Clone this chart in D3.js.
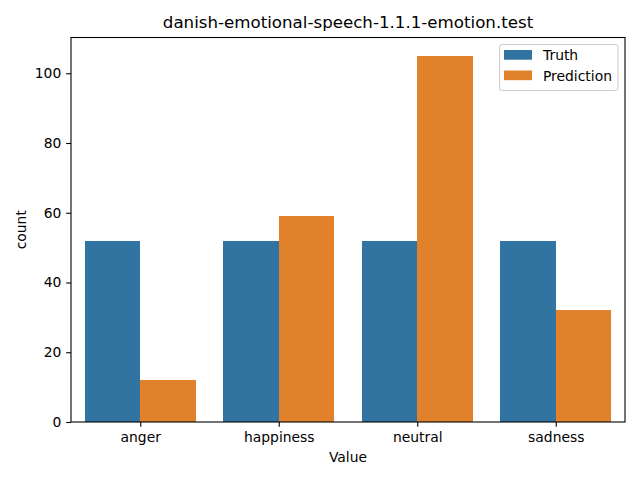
<!DOCTYPE html>
<html><head><meta charset="utf-8">
<script src="https://cdn.jsdelivr.net/npm/d3@7"></script>
<style>body{margin:0;background:#fff}svg{display:block;font-family:"DejaVu Sans",sans-serif}</style>
</head><body>
<script>
const categories = ["anger", "happiness", "neutral", "sadness"];
const seriesNames = ["Truth", "Prediction"];
const truthValues = [52, 52, 52, 52];
const predictionValues = [12, 59, 105, 32];
const yTicks = [0, 20, 40, 60, 80, 100];
const colors = ["#3274a1", "#e1812c"];

const W = 640, H = 480;
const m = {left: 71, right: 625, top: 37.5, bottom: 422};
const svg = d3.select("body").append("svg").attr("width", W).attr("height", H);

const x = d3.scaleLinear().domain([-0.5, categories.length - 0.5]).range([m.left, m.right]);
const y = d3.scaleLinear().domain([0, 110.25]).range([m.bottom, m.top]);

const series = [truthValues, predictionValues];
const bw = 0.4;
series.forEach((vals, s) => {
  svg.append("g").selectAll("rect").data(vals).join("rect")
    .attr("x", (d, i) => x(i - 0.4 + s * bw))
    .attr("width", x(bw) - x(0))
    .attr("y", d => y(d))
    .attr("height", d => y(0) - y(d))
    .attr("fill", colors[s])
    .attr("shape-rendering", "crispEdges");
});

const fs = 13.89;
// axes
const xAxis = d3.axisBottom(x).tickValues(d3.range(categories.length)).tickFormat(i => categories[i]).tickSize(4.86).tickPadding(4.86);
const gx = svg.append("g").attr("transform", `translate(0,${m.bottom})`).call(xAxis);
const yAxis = d3.axisLeft(y).tickValues(yTicks).tickSize(4.86).tickPadding(4.86);
const gy = svg.append("g").attr("transform", `translate(${m.left},0)`).call(yAxis);
[gx, gy].forEach(g => {
  g.select(".domain").remove();
  g.selectAll("text").attr("font-size", fs).attr("fill", "#000").attr("font-family", "DejaVu Sans");
  g.selectAll("line").attr("stroke", "#000").attr("stroke-width", 1.1);
});

// frame
svg.append("rect").attr("x", m.left).attr("y", m.top).attr("width", m.right - m.left).attr("height", m.bottom - m.top)
  .attr("fill", "none").attr("stroke", "#000").attr("stroke-width", 1.1);

// labels
svg.append("text").attr("x", (m.left + m.right) / 2).attr("y", 462).attr("text-anchor", "middle")
  .attr("font-size", fs).text("Value");
svg.append("text").attr("transform", `translate(26,${(m.top + m.bottom) / 2}) rotate(-90)`).attr("text-anchor", "middle")
  .attr("font-size", fs).text("count");
svg.append("text").attr("x", (m.left + m.right) / 2).attr("y", 28).attr("text-anchor", "middle")
  .attr("font-size", 16.67).text("danish-emotional-speech-1.1.1-emotion.test");

// legend
const lg = svg.append("g");
lg.append("rect").attr("x", 499.5).attr("y", 44.5).attr("width", 118.5).attr("height", 46).attr("rx", 2.5)
  .attr("fill", "#fff").attr("fill-opacity", 0.8).attr("stroke", "#ccc").attr("stroke-width", 1);
seriesNames.forEach((n, i) => {
  lg.append("rect").attr("x", 504).attr("y", 50 + i * 20.5).attr("width", 28).attr("height", 9.7).attr("fill", colors[i]);
  lg.append("text").attr("x", 543).attr("y", 60 + i * 20.5).attr("font-size", fs).text(n);
});
</script>
</body></html>
